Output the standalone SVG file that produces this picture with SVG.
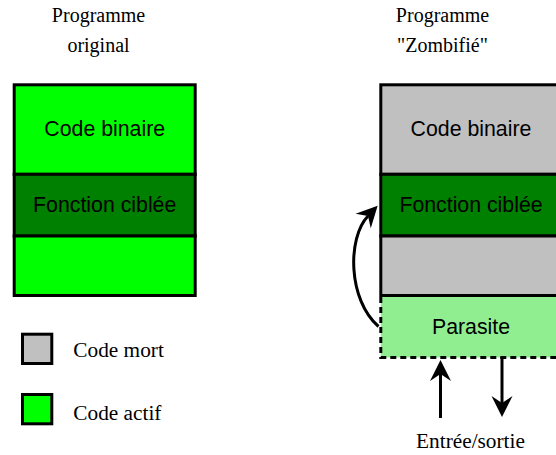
<svg xmlns="http://www.w3.org/2000/svg" width="556" height="455" viewBox="0 0 556 455">
  <style>
    .title { font-family: "Liberation Serif", "Times New Roman", serif; font-size: 20px; fill: #000; text-anchor: middle; }
    .serif { font-family: "Liberation Serif", "Times New Roman", serif; font-size: 21.3px; fill: #000; }
    .label { font-family: "Liberation Sans", Arial, sans-serif; font-size: 21.3px; fill: #000; text-anchor: middle; }
    .block { stroke: #000; stroke-width: 3; }
    .live { fill: #00ff00; }
    .target { fill: #008000; }
    .dead { fill: #c0c0c0; }
    .parasite { fill: #90ee90; }
    .dashed { fill: none; stroke: #000; stroke-width: 3; stroke-dasharray: 6 4; }
    .wire { fill: none; stroke: #000; stroke-width: 3; marker-end: url(#head); }
  </style>
  <defs>
    <marker id="head" viewBox="-22 -12 24 24" refX="-14" refY="0" markerWidth="24" markerHeight="24" markerUnits="userSpaceOnUse" orient="auto">
      <path d="M0,0 L-21,-10.5 L-14,0 L-21,10.5 Z" fill="#000"/>
    </marker>
  </defs>

  <!-- column titles -->
  <g id="title-original">
    <text class="title" x="98.5" y="21.5">Programme</text>
    <text class="title" x="98.5" y="51.5">original</text>
  </g>
  <g id="title-zombie">
    <text class="title" x="442.5" y="21.5">Programme</text>
    <text class="title" x="442.5" y="51.5">"Zombifié"</text>
  </g>

  <!-- original program -->
  <g id="original-binary">
    <rect class="block live" x="14.2" y="84.8" width="181" height="89.5"/>
    <text class="label" x="104.7" y="135.5">Code binaire</text>
  </g>
  <g id="original-target">
    <rect class="block target" x="14.2" y="174.3" width="181" height="61.7"/>
    <text class="label" x="104.7" y="212">Fonction ciblée</text>
  </g>
  <g id="original-rest">
    <rect class="block live" x="14.2" y="236" width="181" height="59.5"/>
  </g>

  <!-- zombified program -->
  <g id="zombie-parasite">
    <rect class="parasite" x="380.8" y="295.5" width="181" height="62"/>
    <path class="dashed" d="M380.8,297 L380.8,357.5 L561.8,357.5 L561.8,297"/>
    <text class="label" x="471" y="334">Parasite</text>
  </g>
  <g id="zombie-binary">
    <rect class="block dead" x="380.8" y="84.8" width="181" height="89.5"/>
    <text class="label" x="471" y="135.5">Code binaire</text>
  </g>
  <g id="zombie-target">
    <rect class="block target" x="380.8" y="174.3" width="181" height="61.7"/>
    <text class="label" x="471" y="212">Fonction ciblée</text>
  </g>
  <g id="zombie-rest">
    <rect class="block dead" x="380.8" y="236" width="181" height="59.5"/>
  </g>

  <!-- legend -->
  <g id="legend-dead">
    <rect class="block dead" x="22.5" y="334.2" width="29.3" height="29.3"/>
    <text class="serif" x="73.3" y="356.7">Code mort</text>
  </g>
  <g id="legend-live">
    <rect class="block live" x="22.5" y="394.5" width="29.3" height="29.3"/>
    <text class="serif" x="73.3" y="420">Code actif</text>
  </g>

  <g id="io-label">
    <text class="serif" x="470.5" y="448" text-anchor="middle">Entrée/sortie</text>
  </g>

  <!-- connectors -->
  <g id="connectors">
    <path class="wire" d="M378.5,326.5 C348,300 347,238 368,216"/>
    <path class="wire" d="M440.5,418 L440.5,374"/>
    <path class="wire" d="M502,357 L502,403"/>
  </g>
</svg>
